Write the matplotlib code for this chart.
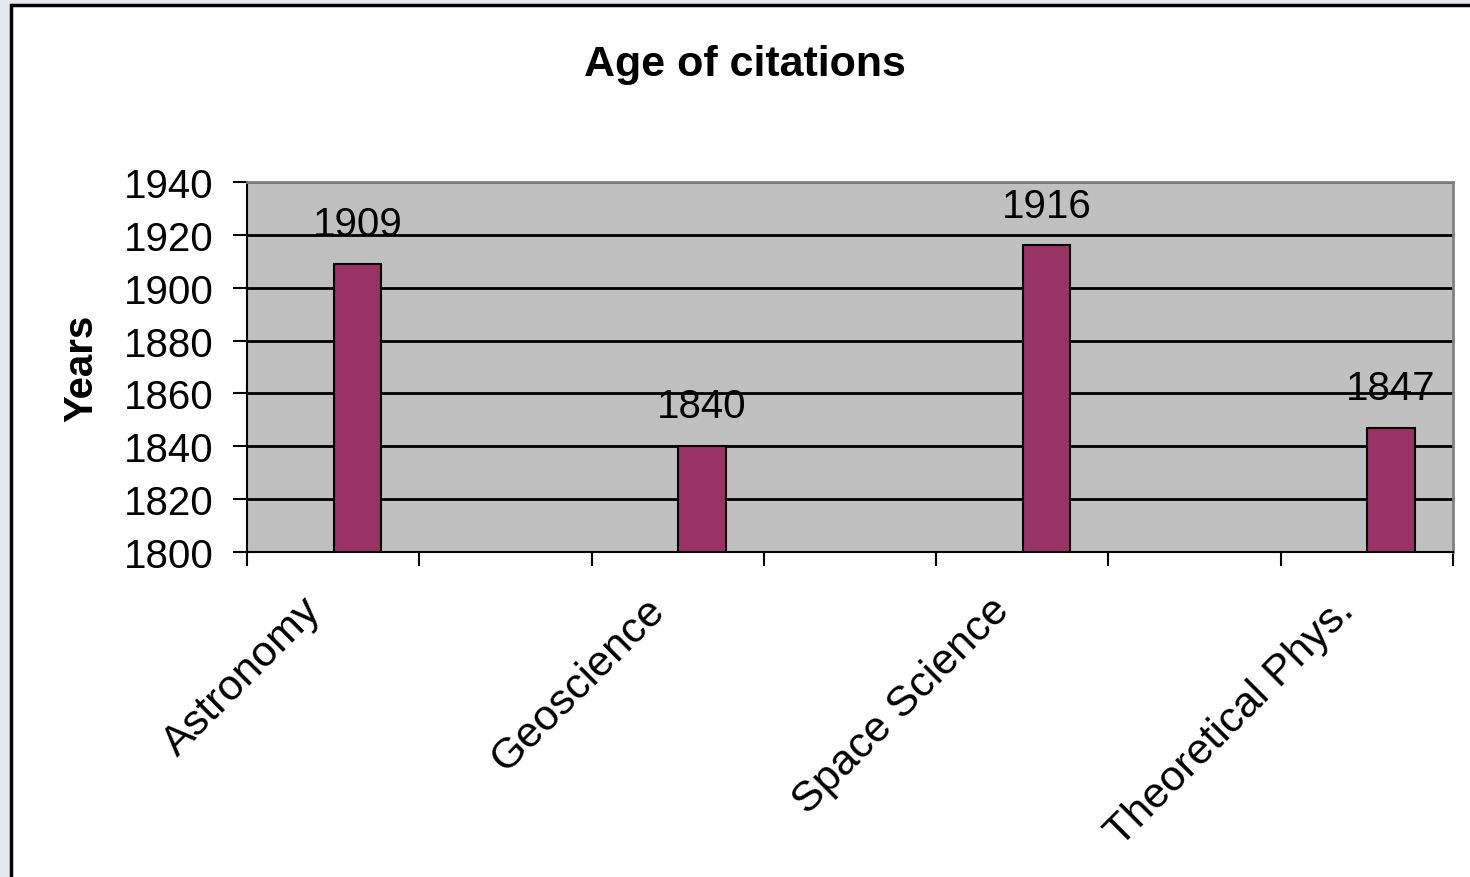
import matplotlib.pyplot as plt
from matplotlib.patches import Rectangle

plt.rcParams['font.family'] = ['Liberation Sans', 'DejaVu Sans']

categories = ['Astronomy', 'Geoscience', 'Space Science', 'Theoretical Phys.']
years = [1909, 1840, 1916, 1847]
y_ticks = [1800, 1820, 1840, 1860, 1880, 1900, 1920, 1940]

fig = plt.figure(figsize=(14.7, 8.78), dpi=100)
fig.patch.set_facecolor('#e4e9f1')

# white chart box with black frame (runs off the right/bottom edge)
box = Rectangle((11 / 1470, -0.05), 1.1, 1 - 6 / 878 + 0.05,
                transform=fig.transFigure, facecolor='white',
                edgecolor='black', linewidth=2.5, zorder=-5)
fig.patches.append(box)

ax = fig.add_axes([247 / 1470, 1 - 553 / 878, 1206 / 1470, 370 / 878])
ax.set_zorder(2)
ax.set_facecolor('#c0c0c0')

# category slots are two tick intervals wide, bars sit off-centre
pos = [0.64 + 2 * i for i in range(len(categories))]
ax.bar(pos, [v - 1800 for v in years], bottom=1800, width=0.275,
       color='#993366', edgecolor='black', linewidth=1.5, zorder=3)

for x, v in zip(pos, years):
    ax.annotate(str(v), (x, v), xytext=(0, 15), textcoords='offset points',
                ha='center', va='bottom', fontsize=29, zorder=4)

ax.set_xlim(0, 7)
ax.set_ylim(1800, 1940)
ax.set_yticks(y_ticks)
ax.set_yticklabels([str(t) for t in y_ticks], fontsize=29)
ax.yaxis.grid(True, color='black', linewidth=2)
ax.set_axisbelow(True)

ax.set_xticks(range(8))
ax.set_xticklabels([])
ax.set_xticks([p - 0.33 for p in pos], minor=True)
ax.set_xticklabels(categories, minor=True, rotation=45, ha='right',
                   va='top', rotation_mode='anchor', fontsize=31)
ax.tick_params(axis='x', which='minor', length=0, pad=27)
ax.tick_params(axis='x', which='major', length=10, width=1.5, direction='out')
ax.tick_params(axis='y', length=10, width=1.5, direction='out', pad=14)

for side in ['left', 'bottom']:
    ax.spines[side].set_color('black')
    ax.spines[side].set_linewidth(1.5)
for side in ['top', 'right']:
    ax.spines[side].set_color('#808080')
    ax.spines[side].set_linewidth(2)

ax.set_ylabel('Years', fontsize=29, fontweight='bold', labelpad=17)
fig.text(745 / 1470, 1 - 65 / 878, 'Age of citations', ha='center',
         va='center', fontsize=31, fontweight='bold')

fig.savefig('out.png', dpi=100, facecolor=fig.get_facecolor())
